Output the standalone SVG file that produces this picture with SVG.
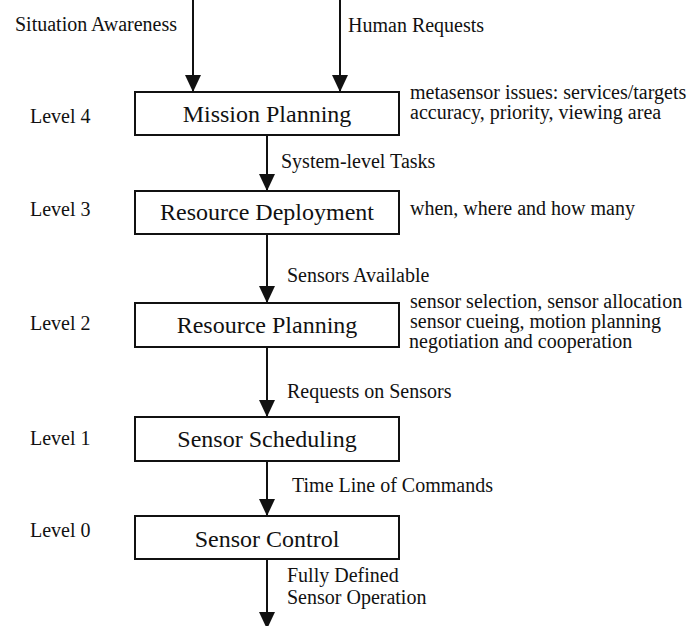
<svg xmlns="http://www.w3.org/2000/svg" width="693" height="626" viewBox="0 0 693 626" font-family="Liberation Serif">
<style>
  text { font-family: "Liberation Serif", "Times New Roman", serif; fill: #111; font-size: 20px; }
  .box { font-size: 24px; text-anchor: middle; }
  rect { fill: #fff; stroke: #111; stroke-width: 2; }
  .conn line { stroke: #111; stroke-width: 2; marker-end: url(#ah); }
</style>
<defs>
  <marker id="ah" markerUnits="userSpaceOnUse" markerWidth="18" markerHeight="16" viewBox="0 0 18 16" refX="17" refY="8" orient="auto">
    <path d="M0,0 L17,8 L0,16 Z" fill="#111"/>
  </marker>
</defs>
<g id="connectors" class="conn">
  <line x1="193" y1="0" x2="193" y2="92"/>
  <line x1="340" y1="0" x2="340" y2="92"/>
  <line x1="267" y1="135" x2="267" y2="191"/>
  <line x1="267" y1="234" x2="267" y2="303"/>
  <line x1="267" y1="347" x2="267" y2="417"/>
  <line x1="267" y1="461" x2="267" y2="516"/>
  <line x1="267" y1="559" x2="267" y2="629"/>
</g>
<g id="inputs">
  <text x="15" y="31">Situation Awareness</text>
  <text x="348" y="32">Human Requests</text>
</g>
<g id="mission-planning">
  <rect x="135" y="92" width="264" height="43"/>
  <text class="box" x="267" y="122">Mission Planning</text>
  <text x="30" y="123">Level 4</text>
  <text x="410" y="99">metasensor issues: services/targets</text>
  <text x="410" y="119">accuracy, priority, viewing area</text>
</g>
<g id="resource-deployment">
  <rect x="135" y="191" width="264" height="43"/>
  <text class="box" x="267" y="220">Resource Deployment</text>
  <text x="30" y="216">Level 3</text>
  <text x="410" y="215">when, where and how many</text>
</g>
<g id="resource-planning">
  <rect x="135" y="303" width="264" height="44"/>
  <text class="box" x="267" y="333">Resource Planning</text>
  <text x="30" y="330">Level 2</text>
  <text x="410" y="308">sensor selection, sensor allocation</text>
  <text x="410" y="328">sensor cueing, motion planning</text>
  <text x="409" y="348">negotiation and cooperation</text>
</g>
<g id="sensor-scheduling">
  <rect x="135" y="417" width="264" height="44"/>
  <text class="box" x="267" y="447">Sensor Scheduling</text>
  <text x="30" y="445">Level 1</text>
</g>
<g id="sensor-control">
  <rect x="135" y="516" width="264" height="43"/>
  <text class="box" x="267" y="547">Sensor Control</text>
  <text x="30" y="537">Level 0</text>
</g>
<g id="connector-labels">
  <text x="281" y="168">System-level Tasks</text>
  <text x="287" y="282">Sensors Available</text>
  <text x="287" y="398">Requests on Sensors</text>
  <text x="292" y="492">Time Line of Commands</text>
  <text x="287" y="582">Fully Defined</text>
  <text x="287" y="604">Sensor Operation</text>
</g>
</svg>
